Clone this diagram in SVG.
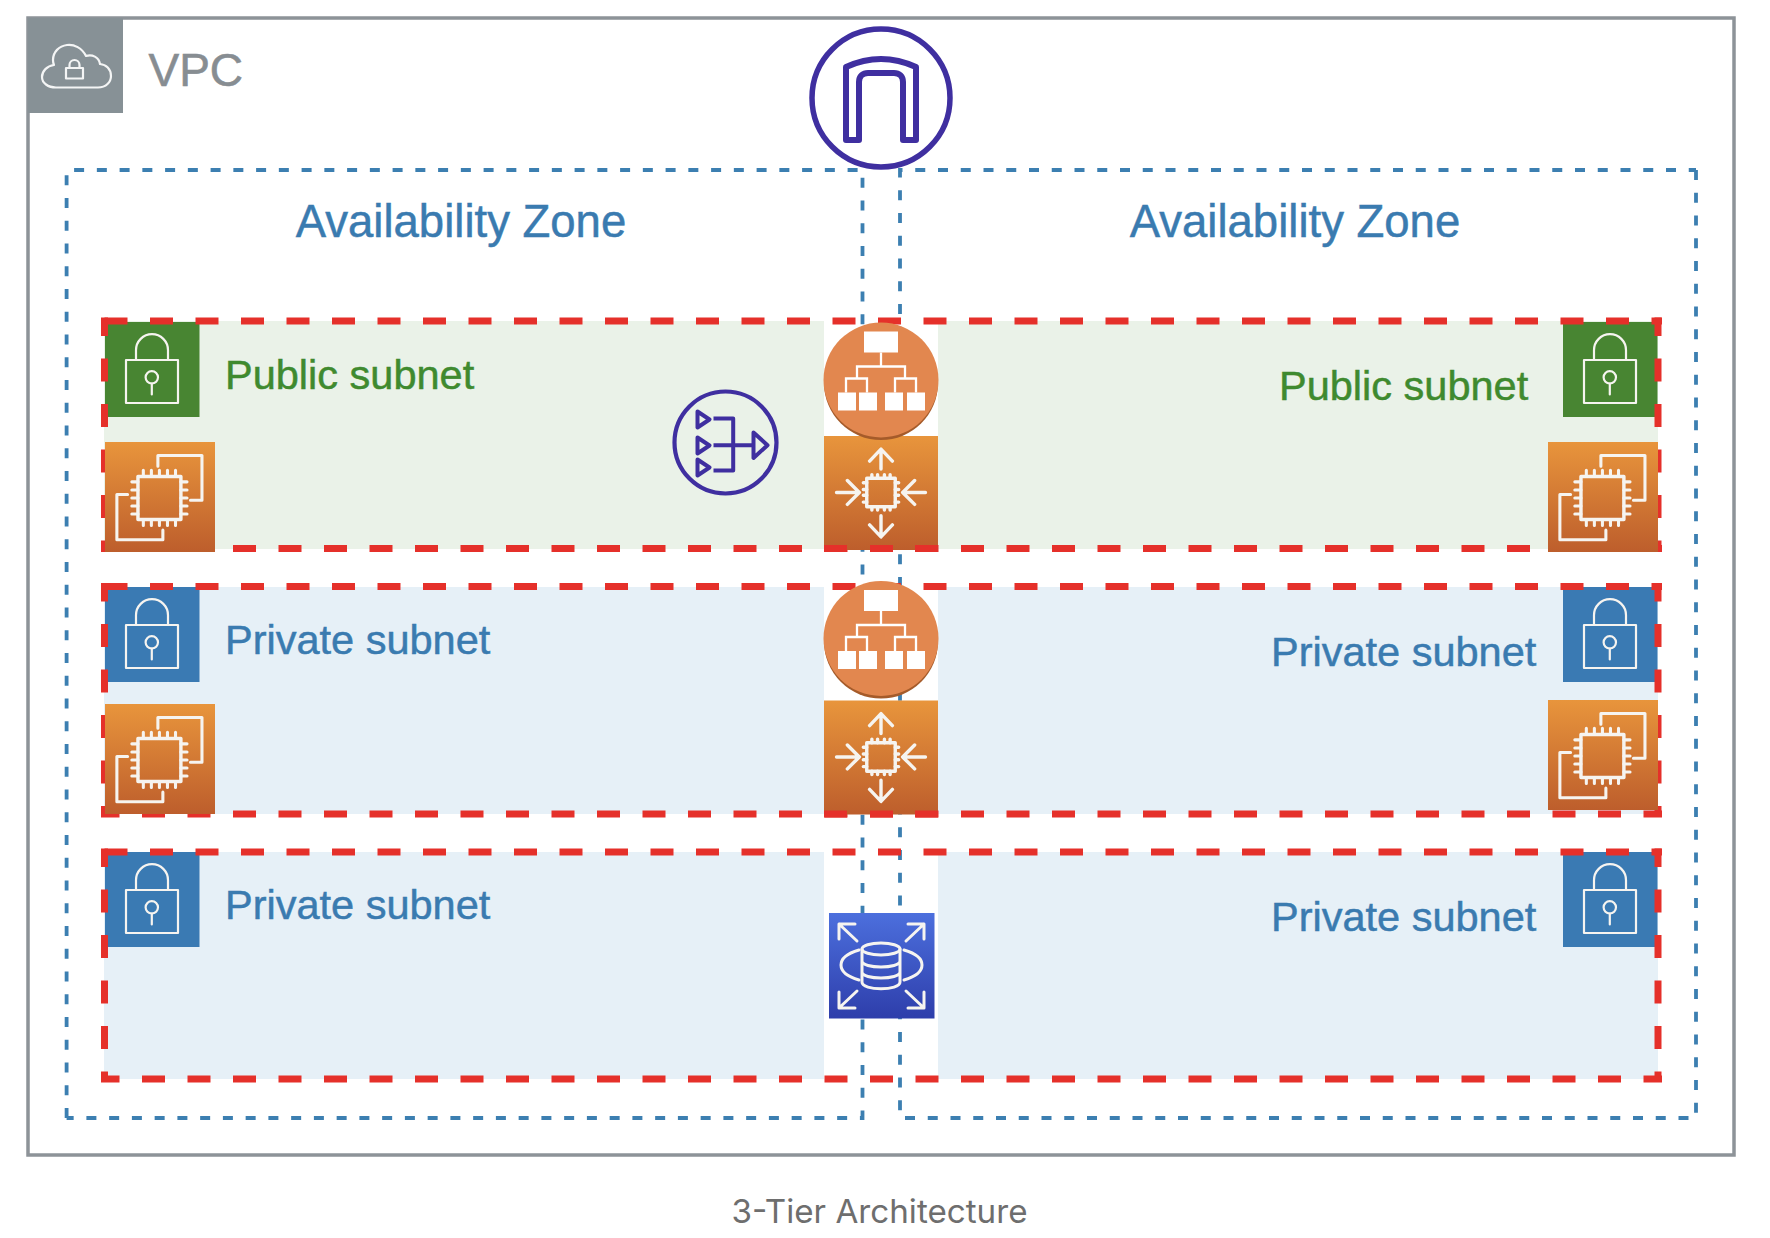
<svg xmlns="http://www.w3.org/2000/svg" width="1770" height="1238" viewBox="0 0 1770 1238">
<style>
text{font-family:"Liberation Sans",Arial,sans-serif}
.az{fill:none;stroke:#3c7fb1;stroke-width:3.8;stroke-dasharray:10 12.75}
.red{fill:none;stroke:#e5302a;stroke-width:7;stroke-dasharray:23 22.5}
.redo{stroke-dashoffset:4.5}
.g{fill:#eaf2e8}.b{fill:#e6f0f7}
.gt{fill:#3f8a2f;stroke:#3f8a2f;stroke-width:.5;font-size:41.5px}
.bt{fill:#3a7bb0;stroke:#3a7bb0;stroke-width:.5;font-size:41.5px}
.azt{fill:#3a7bb0;stroke:#3a7bb0;stroke-width:.5;font-size:45.5px;text-anchor:middle}
.w{fill:none;stroke:#f6f4f0;stroke-linecap:round;stroke-linejoin:round}
.wf{fill:#fff;stroke:none}
.p{fill:none;stroke:#3f2fa0}
</style>
<defs>
<linearGradient id="orange" x1="0" y1="0" x2="0" y2="1"><stop offset="0" stop-color="#e8953c"/><stop offset="1" stop-color="#bd5e2c"/></linearGradient>
<linearGradient id="indigo" x1="0" y1="0" x2="0" y2="1"><stop offset="0" stop-color="#4c6fdd"/><stop offset="1" stop-color="#2e3eab"/></linearGradient>
<symbol id="lock" viewBox="0 0 95 95">
<g class="w" stroke-width="2.2"><rect x="21.500" y="38.500" width="52" height="43"/><path d="M31.500 38.500V28.700A16 16 0 0 1 63.500 28.700V38.500"/><circle cx="47.300" cy="55.800" r="6.200"/><path d="M47.300 62V73"/></g>
</symbol>
<symbol id="ec2" viewBox="0 0 287 287">
<rect width="287" height="287" fill="url(#orange)"/>
<g class="w" stroke-width="8"><path d="M138 63V35H253V152H223"/><path d="M59 137H31V255H151V230"/><rect x="86" y="90" width="112" height="112" stroke-width="9"/>
<path d="M100 90V74M121 90V74M142 90V74M163 90V74M184 90V74M100 202V218M121 202V218M142 202V218M163 202V218M184 202V218M86 104H70M86 125H70M86 146H70M86 167H70M86 188H70M198 104H214M198 125H214M198 146H214M198 167H214M198 188H214"/></g>
</symbol>
<symbol id="asg" viewBox="0 0 100 100">
<rect width="100" height="100" fill="url(#orange)"/>
<g class="w" stroke-width="3"><rect x="37.500" y="37" width="25" height="25" stroke-width="3"/>
<path d="M42 37V34M47 37V34M53 37V34M58 37V34M42 62V65M47 62V65M53 62V65M58 62V65M37.500 41H34.500M37.500 47H34.500M37.500 52H34.500M37.500 58H34.500M62.500 41H65.500M62.500 47H65.500M62.500 52H65.500M62.500 58H65.500"/>
<path d="M50 29V12M40 22L50 11.500L60 22M50 70V88M40 78L50 88.500L60 78M11 49.500H29M20.500 39L31 49.500L20.500 60M89 49.500H71M79.500 39L69 49.500L79.500 60"/></g>
</symbol>
<symbol id="alb" viewBox="-59 -60 118 122">
<circle cx="0" cy="2.500" r="57" fill="#a55b2a"/>
<circle cx="0" cy="-.5" r="57.500" fill="#e2874f"/>
<path d="M0-28V-14M-24-2V-14H24V-2M-35 12V-2H-14V12M14 12V-2H35V12" fill="none" stroke="#fff" stroke-width="2.300"/>
<g class="wf"><rect x="-17" y="-49" width="34" height="21"/><rect x="-43" y="12" width="18" height="18"/><rect x="-22" y="12" width="18" height="18"/><rect x="4" y="12" width="18" height="18"/><rect x="26" y="12" width="18" height="18"/></g>
</symbol>
</defs>
<rect width="1770" height="1238" fill="#fff"/>
<g id="vpc">
<rect x="28" y="18" width="1706" height="1137" fill="#fff" stroke="#8d9398" stroke-width="3.500"/>
<rect x="28" y="18" width="95" height="95" fill="#879196"/>
<g fill="none" stroke="#f4f5f5" stroke-width="2.200" stroke-linejoin="round"><path d="M56 87.500H98C106 87.500 111 82 111 76C111 69 106 64.500 100 64C99 57 92 54 86 56C82 48 74 44 67 45C59 46 53 52 53 60C53 62 53 63 54 65C47 66 42 71 42 77C42 83 48 87.500 56 87.500Z"/><rect x="66" y="68" width="17" height="10.500"/><path d="M69.500 68V65A5 5 0 0 1 79.500 65V68"/></g>
<text x="148.500" y="85.500" fill="#878d92" stroke="#878d92" stroke-width=".6" font-size="46">VPC</text>
</g>
<g id="connectors">
<path class="az" d="M66.600 1118V170H862.500V1118H66.600"/>
<path class="az" d="M1696 170V1118H900V170H1696"/>
</g>
<g id="az-labels">
<text class="azt" x="461" y="237">Availability Zone</text>
<text class="azt" x="1295" y="237">Availability Zone</text>
</g>
<g id="subnet-public-left"><rect class="g" x="104" y="321" width="720" height="228"/><text class="gt" x="225" y="389">Public subnet</text></g>
<g id="subnet-public-right"><rect class="g" x="938" y="321" width="720" height="228"/><text class="gt" x="1279" y="400">Public subnet</text></g>
<g id="subnet-app-left"><rect class="b" x="104" y="587" width="720" height="227"/><text class="bt" x="225" y="654">Private subnet</text></g>
<g id="subnet-app-right"><rect class="b" x="938" y="587" width="720" height="227"/><text class="bt" x="1271" y="666">Private subnet</text></g>
<g id="subnet-db-left"><rect class="b" x="104" y="852" width="720" height="227"/><text class="bt" x="225" y="919">Private subnet</text></g>
<g id="subnet-db-right"><rect class="b" x="938" y="852" width="720" height="227"/><text class="bt" x="1271" y="931">Private subnet</text></g>
<g id="locks">
<rect x="105" y="322" width="94.500" height="95" fill="#488532"/><use href="#lock" x="104.500" y="321.500" width="95" height="95"/>
<rect x="1563" y="322" width="94.500" height="95" fill="#488532"/><use href="#lock" x="1562.500" y="321.500" width="95" height="95"/>
<rect x="105" y="587" width="94.500" height="95" fill="#3a7ab3"/><use href="#lock" x="104.500" y="586.500" width="95" height="95"/>
<rect x="1563" y="587" width="94.500" height="95" fill="#3a7ab3"/><use href="#lock" x="1562.500" y="586.500" width="95" height="95"/>
<rect x="105" y="852" width="94.500" height="95" fill="#3a7ab3"/><use href="#lock" x="104.500" y="851.500" width="95" height="95"/>
<rect x="1563" y="852" width="94.500" height="95" fill="#3a7ab3"/><use href="#lock" x="1562.500" y="851.500" width="95" height="95"/>
</g>
<g id="subnet-borders">
<path class="red" d="M104.500 321H1662"/><path class="red redo" d="M101 548.500H1662M104.500 317.500V552M1658 317.500V552"/>
<path class="red" d="M104.500 586.500H1662"/><path class="red redo" d="M101 814H1662M104.500 583V817.500M1658 583V817.500"/>
<path class="red" d="M104.500 852H1662"/><path class="red redo" d="M101 1079H1662M104.500 848.500V1082.500M1658 848.500V1082.500"/>
</g>
<g id="ec2-public-left"><use href="#ec2" x="105" y="442" width="110" height="110"/></g>
<g id="ec2-public-right"><use href="#ec2" x="1548" y="442" width="110" height="110"/></g>
<g id="ec2-app-left"><use href="#ec2" x="105" y="704" width="110" height="110"/></g>
<g id="ec2-app-right"><use href="#ec2" x="1548" y="700" width="110" height="110"/></g>
<g id="asg-public"><use href="#asg" x="824" y="435" width="114" height="116"/><path d="M824 548.500H847M870 548.500H893M915 548.500H938" stroke="#e5302a" stroke-width="7" fill="none"/></g>
<g id="asg-app"><use href="#asg" x="824" y="699.500" width="114" height="116"/><path d="M824 814H847M870 814H893M915 814H938" stroke="#e5302a" stroke-width="7" fill="none"/></g>
<g id="alb-public"><use href="#alb" x="822" y="320.500" width="118" height="122"/></g>
<g id="alb-app"><use href="#alb" x="822" y="579" width="118" height="122"/></g>
<g id="igw" transform="translate(881 98)">
<circle r="69" fill="#fff" class="p" stroke-width="5.500"/>
<path d="M-35 42V-31Q0-47 35-31V42H22V-16C22-22 18-25 13-25H-13C-18-25-22-22-22-16V42Z" fill="#fff" class="p" style="fill:#fff" stroke-width="6" stroke-linejoin="round"/>
</g>
<g id="nat" transform="translate(725.500 442.500)">
<circle r="51" class="p" stroke-width="4.200"/>
<g class="p" stroke-width="4" stroke-linejoin="round"><path d="M-28-31L-16-23L-28-15ZM-28-5L-16 3L-28 11ZM-28 17L-16 25L-28 33ZM28-10L42 2.700L28 15.500Z"/><path d="M-12-24H7.700V28H-12M-12 2.700H28"/></g>
</g>
<g id="rds" transform="translate(829 913)">
<rect width="105.500" height="105.500" fill="url(#indigo)"/>
<g class="w" stroke-width="3"><path d="M28 28L10 11M10 26V11H26M77 28L95 11M79 11H95V26M28 78L10 95M10 79V95H26M77 78L95 95M79 95H95V79M30 37C6 44 6 60 30 67M75 37C99 44 99 60 75 67"/>
<ellipse cx="52" cy="36" rx="19" ry="6"/><path d="M33 36V69C33 78 71 78 71 69V36M33 48C33 56 71 56 71 48M33 59C33 67 71 67 71 59"/></g>
</g>
<text id="caption" x="879.500" y="1223" fill="#6e6e6e" font-size="33.200" text-anchor="middle" style="font-family:Inter,'Liberation Sans',sans-serif">3-Tier Architecture</text>
</svg>
